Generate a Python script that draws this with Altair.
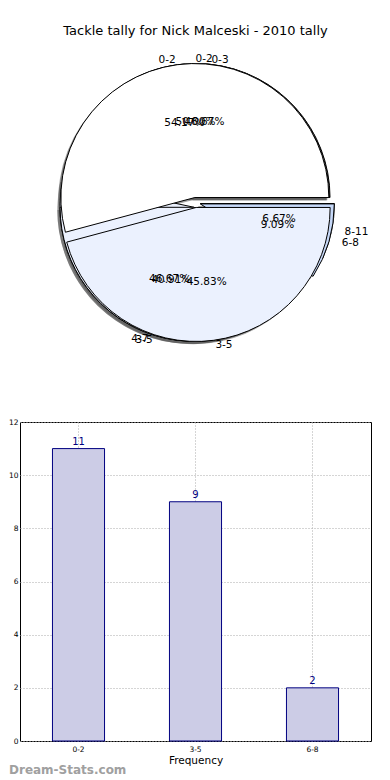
import altair as alt
import pandas as pd
import numpy as np

# ---------------- data ----------------
pie_a_labels = ["0-2", "3-5"]
pie_a_values = [13, 11]
pie_b_labels = ["0-2", "3-5", "6-8"]
pie_b_values = [11, 9, 2]
pie_c_labels = ["0-3", "4-7", "8-11"]
pie_c_values = [7, 7, 1]

bar_categories = ["0-2", "3-5", "6-8"]
bar_counts = [11, 9, 2]
y_ticks = [0, 2, 4, 6, 8, 10, 12]

slice_colors = ["#FFFFFF", "#EBF1FE", "#C6D8F8"]

TITLE = "Tackle tally for Nick Malceski - 2010 tally"
X_TITLE = "Frequency"
Y_TITLE = "Games in Tally"
WATERMARK = "Dream-Stats.com"

# ---------------- layout / style ----------------
PW, PH = 351, 297      # pie panel
BW, BH = 351, 319      # bar panel
R = 134                # pie radius (px)
ASPECT = 0.94          # vertical squeeze of the label ring (reference pie is an ellipse)
EXPLODE = 5 / R        # in radius units
SHADOW = 0.02          # shadow offset in radius units

rows = []
for name, labels, values in [("C", pie_c_labels, pie_c_values),
                             ("B", pie_b_labels, pie_b_values),
                             ("A", pie_a_labels, pie_a_values)]:
    total = float(sum(values))
    cum = 0.0
    for i, (lab, v) in enumerate(zip(labels, values)):
        start = cum / total
        cum += v
        end = cum / total
        mid = np.pi * (start + end)
        cx = EXPLODE * np.cos(mid)
        cy = EXPLODE * np.sin(mid)
        lx = cx + 1.1 * np.cos(mid)
        ly = cy + 1.1 * np.sin(mid) * ASPECT
        rows.append(dict(
            pie=name, label=lab, start=float(start), end=float(end),
            cx=float(cx), cy=float(cy),
            sx=float(cx - SHADOW), sy=float(cy - SHADOW),
            lx=float(lx), ly=float(ly),
            px=float(cx + 0.6 * np.cos(mid)),
            py=float(cy + 0.6 * np.sin(mid) * ASPECT),
            pct=f"{100.0 * v / total:.2f}%",
            side="left" if lx > -1e-9 else "right",
            color=slice_colors[i],
        ))
pie_df = pd.DataFrame(rows)

xs = alt.Scale(domain=[-PW / 2 / R, PW / 2 / R], nice=False, zero=False)
ys = alt.Scale(domain=[-PH / 2 / R, PH / 2 / R], nice=False, zero=False)
ts = alt.Scale(domain=[0, 1], range=[np.pi / 2, np.pi / 2 - 2 * np.pi])

base = alt.Chart(pie_df)

def theta_enc():
    return dict(theta=alt.Theta("start:Q", scale=ts, stack=None),
                theta2=alt.Theta2("end:Q"))

layers = []
for name in ["C", "B", "A"]:
    layers.append(
        base.transform_filter(alt.datum.pie == name)
        .mark_arc(radius=R, fill="#4D4D4D", opacity=0.5)
        .encode(x=alt.X("sx:Q", scale=xs, axis=None),
                y=alt.Y("sy:Q", scale=ys, axis=None), **theta_enc())
    )
for name in ["C", "B", "A"]:
    layers.append(
        base.transform_filter(alt.datum.pie == name)
        .mark_arc(radius=R, stroke="black", strokeWidth=1)
        .encode(x=alt.X("cx:Q", scale=xs, axis=None),
                y=alt.Y("cy:Q", scale=ys, axis=None),
                color=alt.Color("color:N", scale=None), **theta_enc())
    )
for side in ["left", "right"]:
    layers.append(
        base.transform_filter(alt.datum.side == side)
        .mark_text(align=side, baseline="middle", fontSize=10.5, color="black")
        .encode(x=alt.X("lx:Q", scale=xs, axis=None),
                y=alt.Y("ly:Q", scale=ys, axis=None), text="label:N")
    )
layers.append(
    base.mark_text(align="center", baseline="middle", fontSize=10.5, color="black")
    .encode(x=alt.X("px:Q", scale=xs, axis=None),
            y=alt.Y("py:Q", scale=ys, axis=None), text="pct:N")
)

pie = alt.layer(*layers).properties(
    width=PW, height=PH,
    title=alt.TitleParams(TITLE, fontSize=13, fontWeight="normal",
                          anchor="middle", offset=16, color="black"),
)

# ---------------- bar chart ----------------
bar_df = pd.DataFrame({"range": bar_categories, "count": bar_counts})
grid_col = "#AAAAAA"
xb = alt.X("range:N", sort=bar_categories,
           scale=alt.Scale(paddingInner=0.555, paddingOuter=0.2775),
           axis=alt.Axis(title=X_TITLE, labelAngle=0, labelFontSize=7.5,
                         ticks=False, grid=True, gridDash=[1, 2],
                         gridColor=grid_col, bandPosition=0.5, domain=False,
                         titleFontSize=10.5, titleFontWeight="normal",
                         labelPadding=4, titlePadding=3, labelColor="black",
                         titleColor="black"))
yb = alt.Y("count:Q", scale=alt.Scale(domain=[0, 12], nice=False),
           axis=alt.Axis(title=Y_TITLE, values=y_ticks, labelFontSize=7.5,
                         ticks=False, grid=True, gridDash=[1, 2],
                         gridColor=grid_col, domain=False, labelPadding=2,
                         titleFontSize=10, titleFontWeight="normal",
                         titlePadding=4, labelColor="black",
                         titleColor="black"))

bars = alt.Chart(bar_df).mark_bar(fill="#CCCCE6", stroke="#000080",
                                  strokeWidth=1).encode(x=xb, y=yb)
vals = alt.Chart(bar_df).mark_text(baseline="bottom", dy=-2, fontSize=10,
                                   color="#000080").encode(
    x=alt.X("range:N", sort=bar_categories), y="count:Q", text="count:Q")
wm = alt.Chart(pd.DataFrame({"t": [WATERMARK]})).mark_text(
    align="left", baseline="middle", fontSize=12, fontWeight="bold",
    color="#A0A0A0").encode(text="t:N", x=alt.value(-11), y=alt.value(BH + 29))

bar = alt.layer(bars, vals, wm).properties(
    width=BW, height=BH,
    view=alt.ViewBackground(stroke="black", strokeWidth=1),
)

chart = alt.vconcat(pie, bar, spacing=66).properties(
    padding={"left": -15, "top": 16, "right": 0, "bottom": 0}
).configure(font="DejaVu Sans").configure_view(stroke=None)

chart.save("out.html", embed_options={"renderer": "svg", "actions": False})
